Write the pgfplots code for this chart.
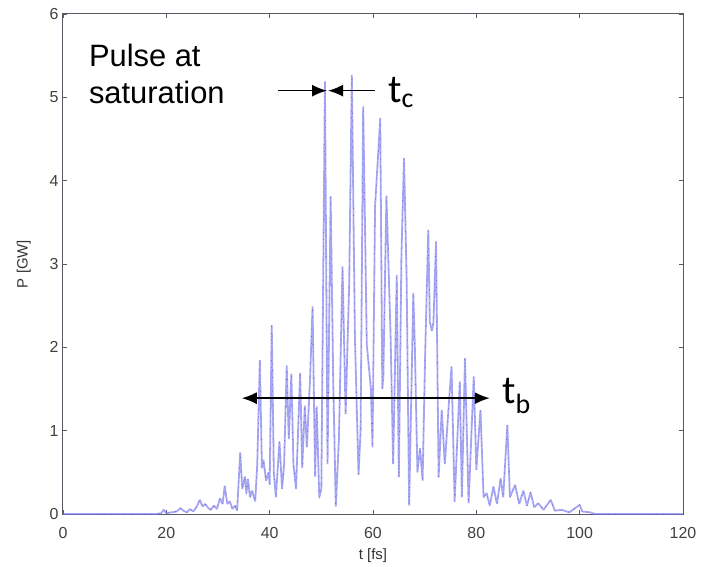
\documentclass[border=0pt]{standalone}
\usepackage{fontspec}
\setmainfont{Liberation Sans}
\newfontfamily\calib{Carlito}
\usepackage{pgfplots}
\pgfplotsset{compat=1.18}
\usetikzlibrary{arrows.meta}
\definecolor{trace}{RGB}{120,120,238}
\definecolor{tracedark}{RGB}{50,50,175}
\definecolor{axgray}{RGB}{90,90,100}

% pulse power trace, P [GW] against t [fs]
\pgfplotstableread{
t P
0 0
18 0
19 0.01
19.5 0.05
20 0.01
21 0.02
22 0.03
22.7 0.07
23.3 0.04
24 0.02
24.6 0.06
25.2 0.03
25.8 0.08
26.5 0.17
27 0.09
27.5 0.12
28 0.08
28.6 0.05
29.2 0.10
29.8 0.06
30.4 0.19
30.9 0.12
31.3 0.34
31.8 0.12
32.3 0.15
32.8 0.06
33.3 0.10
33.7 0.04
34.3 0.74
34.7 0.30
35.2 0.45
35.5 0.25
35.8 0.42
36.2 0.20
36.6 0.28
37.2 0.15
37.6 0.60
38.1 1.85
38.5 0.55
38.8 0.65
39.3 0.40
39.8 0.50
40.0 0.35
40.4 2.27
40.8 0.50
41.2 0.20
41.9 0.87
42.4 0.30
42.8 0.60
43.3 1.78
43.7 0.90
44.2 1.68
44.6 0.60
45.1 0.30
45.9 1.69
46.3 0.55
46.8 1.30
47.2 0.80
47.8 1.60
48.3 2.49
48.8 0.45
49.1 1.29
49.6 0.20
50.0 0.30
50.7 5.19
51.2 0.60
51.8 3.81
52.3 1.60
52.8 0.09
53.4 0.90
54.1 2.97
54.7 1.20
55.4 2.79
55.9 5.27
56.5 2.13
57.2 0.47
57.6 1.00
58.1 4.89
58.8 2.03
59.6 1.50
59.9 0.80
60.4 3.69
61.4 4.75
61.8 1.50
62.0 1.65
62.6 3.82
63.4 2.15
63.9 0.60
64.6 2.87
65.0 0.44
65.5 3.09
66.0 4.27
66.5 2.85
67.0 0.10
67.8 2.65
68.1 2.00
68.6 0.50
69.1 0.79
69.6 0.40
70.1 1.93
70.7 3.41
71.0 2.30
71.4 2.20
71.7 2.30
72.2 3.27
72.7 0.44
73.3 1.25
73.9 0.60
74.6 1.25
75.2 1.77
75.8 0.15
76.8 1.59
77.2 0.20
77.8 1.87
78.5 0.13
79.5 1.65
80.0 0.53
80.8 1.25
81.4 0.20
82.0 0.25
82.6 0.10
83.3 0.33
84.0 0.12
84.7 0.43
85.2 0.20
86.0 1.07
86.5 0.20
87.5 0.35
88.3 0.12
89.1 0.28
89.8 0.10
90.5 0.26
91.2 0.08
92.0 0.13
93.0 0.05
94.4 0.17
95.2 0.04
96.5 0.05
98 0.02
100 0.11
100.5 0.03
102 0.02
103 0
120 0
}\pulse

\begin{document}
\begin{tikzpicture}
\begin{axis}[
  scale only axis,
  width=620bp, height=500bp,
  xmin=0, xmax=120, ymin=0, ymax=6,
  xtick={0,20,...,120}, ytick={0,1,...,6},
  tick align=inside,
  major tick length=4bp,
  tick style={axgray, line width=0.6bp},
  axis line style={axgray, line width=1bp},
  ticklabel style={font=\fontsize{16}{19}\selectfont, text=black!75},
  /pgf/number format/assume math mode=true,
  xticklabel style={yshift=-10bp},
  yticklabel style={xshift=-1bp},
  xlabel={t [fs]}, ylabel={P [GW]},
  label style={font=\fontsize{15}{18}\selectfont, text=black!80},
  xlabel style={yshift=-3bp},
  ylabel style={yshift=12bp},
  clip=false,
]
\addplot[trace, line width=1.8bp, draw opacity=0.65, line join=bevel] table[x=t, y=P] {\pulse};
\addplot[tracedark, line width=0.5bp, draw opacity=0.7, dash pattern=on 0.8bp off 6bp] table[x=t, y=P] {\pulse};

% annotations
\node[anchor=base west, inner sep=0pt, font=\fontsize{31}{36}\selectfont] at (axis cs:5.0,5.37) {Pulse at};
\node[anchor=base west, inner sep=0pt, font=\fontsize{31}{36}\selectfont] at (axis cs:5.0,4.93) {saturation};
\draw[-{Latex[length=15bp,width=12bp]}, line width=1.6bp] (axis cs:41.6,5.08) -- (axis cs:51.1,5.08);
\draw[-{Latex[length=15bp,width=12bp]}, line width=1.6bp] (axis cs:60.4,5.08) -- (axis cs:51.3,5.08);
\node[anchor=base west, inner sep=0pt, font=\calib\fontsize{40}{44}\selectfont] at (axis cs:62.9,4.94) {t\textsubscript{c}};
\draw[{Latex[length=15bp,width=12bp]}-{Latex[length=15bp,width=12bp]}, line width=1.6bp] (axis cs:34.6,1.39) -- (axis cs:82.6,1.39);
\node[anchor=base west, inner sep=0pt, font=\calib\fontsize{40}{44}\selectfont] at (axis cs:85.0,1.33) {t\textsubscript{b}};
\end{axis}
\pgfresetboundingbox
\path (current axis.south west) ++(-63bp,-53bp) rectangle ([xshift=19bp,yshift=14bp]current axis.north east);
\end{tikzpicture}
\end{document}
